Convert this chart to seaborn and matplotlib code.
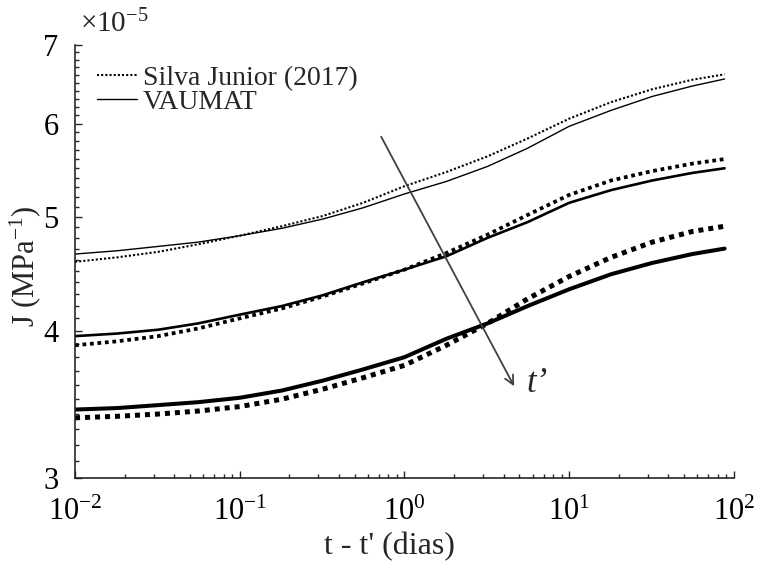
import numpy as np
import pandas as pd
import matplotlib
matplotlib.use("Agg")
import matplotlib.pyplot as plt
from matplotlib.ticker import FixedLocator, FixedFormatter, LogLocator, NullFormatter
import seaborn as sns

# Creep compliance J (x 1e-5 1/MPa) versus loading time t - t' (days)
t_days = [0.01, 0.018, 0.032, 0.056, 0.1, 0.18, 0.32, 0.56, 1.0,
          1.8, 3.2, 5.6, 10, 18, 32, 56, 88]

silva_early = [4.58, 4.62, 4.67, 4.74, 4.82, 4.91, 5.01, 5.14, 5.31,
               5.46, 5.63, 5.83, 6.06, 6.26, 6.42, 6.54, 6.61]
vaumat_early = [4.65, 4.68, 4.72, 4.76, 4.82, 4.89, 4.98, 5.09, 5.23,
                5.36, 5.52, 5.72, 5.97, 6.16, 6.33, 6.46, 6.55]
silva_mid = [3.89, 3.92, 3.96, 4.02, 4.10, 4.18, 4.28, 4.39, 4.51,
             4.66, 4.83, 5.02, 5.22, 5.37, 5.47, 5.55, 5.60]
vaumat_mid = [3.96, 3.98, 4.01, 4.06, 4.13, 4.20, 4.29, 4.40, 4.51,
              4.63, 4.80, 4.95, 5.14, 5.27, 5.37, 5.45, 5.50]
silva_late = [3.375, 3.385, 3.40, 3.42, 3.45, 3.50, 3.57, 3.65, 3.74,
              3.89, 4.06, 4.26, 4.45, 4.62, 4.76, 4.86, 4.91]
vaumat_late = [3.43, 3.44, 3.46, 3.48, 3.51, 3.56, 3.63, 3.71, 3.80,
               3.94, 4.06, 4.20, 4.34, 4.47, 4.57, 4.65, 4.70]

y_ticks = [3, 4, 5, 6, 7]
x_ticks = [1e-2, 1e-1, 1e0, 1e1, 1e2]
x_tick_labels = [r"$\mathregular{10^{-2}}$", r"$\mathregular{10^{-1}}$", r"$\mathregular{10^{0}}$",
                 r"$\mathregular{10^{1}}$", r"$\mathregular{10^{2}}$"]

scale = 1e-5
curves = [
    ("Silva Junior (2017)", silva_early, "dot", 1.5),
    ("VAUMAT", vaumat_early, "solid", 1.0),
    (None, silva_mid, "dot", 2.7),
    (None, vaumat_mid, "solid", 1.9),
    (None, silva_late, "dot", 3.6),
    (None, vaumat_late, "solid", 2.9),
]

sns.set_theme(style="ticks")
plt.rcParams["font.family"] = ["Liberation Serif", "DejaVu Serif"]
plt.rcParams["mathtext.fontset"] = "custom"
plt.rcParams["mathtext.rm"] = "Liberation Serif"
plt.rcParams["mathtext.it"] = "Liberation Serif:italic"

axis_color = "#262626"

fig = plt.figure(figsize=(7.58, 5.70), dpi=100)
ax = fig.add_axes([0.099, 0.1614, 0.869, 0.7596])

for label, values, kind, lw in curves:
    df = pd.DataFrame({"t": t_days, "J": np.array(values) * scale})
    style = dict(linestyle=(0, (1, 1)), dash_capstyle="butt") if kind == "dot" else dict(linestyle="-")
    sns.lineplot(data=df, x="t", y="J", ax=ax, color="black", linewidth=lw,
                 label=label, legend=False, **style)

ax.set_xscale("log")
ax.set_yscale("log")
ax.set_xlim(1e-2, 1e2)
ax.set_ylim(3e-5, 7e-5)

ax.xaxis.set_major_locator(FixedLocator(x_ticks))
ax.xaxis.set_major_formatter(FixedFormatter(x_tick_labels))
ax.xaxis.set_minor_locator(LogLocator(base=10, subs=np.arange(2, 10)))
ax.xaxis.set_minor_formatter(NullFormatter())

ax.yaxis.set_major_locator(FixedLocator([v * scale for v in y_ticks]))
ax.yaxis.set_major_formatter(FixedFormatter([str(v) for v in y_ticks]))
minor_y = [v * scale for v in np.arange(3.1, 7.0, 0.1) if abs(v - round(v)) > 1e-6]
ax.yaxis.set_minor_locator(FixedLocator(minor_y))
ax.yaxis.set_minor_formatter(NullFormatter())

for side in ("top", "right"):
    ax.spines[side].set_visible(False)
for side in ("left", "bottom"):
    ax.spines[side].set_color(axis_color)
    ax.spines[side].set_linewidth(1.2)

ax.tick_params(which="both", direction="in", colors=axis_color, labelcolor="black", width=1.0)
ax.tick_params(which="major", length=5, labelsize=22)
ax.tick_params(axis="x", which="major", pad=14)
ax.tick_params(axis="y", which="major", pad=12)
ax.tick_params(which="minor", length=3)

ax.set_xlabel("t - t' (dias)", fontsize=23)
ax.xaxis.set_label_coords(0.478, -0.125)
ax.set_ylabel(r"J (MPa$^{-1}$)", fontsize=22)
ax.yaxis.set_label_coords(-0.048, 0.49)

ax.text(0.008, 1.015, r"$\times\mathregular{10^{-5}}$", transform=ax.transAxes,
        fontsize=21, ha="left", va="bottom")

# Arrow showing increasing loading age t'
ax.annotate("", xy=(4.64, 3.59e-5), xytext=(0.723, 5.85e-5),
            arrowprops=dict(arrowstyle="->", color="#404040", lw=1.3, mutation_scale=16,
                            shrinkA=0, shrinkB=0))
ax.text(5.5, 3.61e-5, "t\u2019", fontsize=25, style="italic", ha="left", va="center")

leg = ax.legend(loc="upper left", bbox_to_anchor=(0.033, 0.953), frameon=False, fontsize=20,
                handlelength=1.45, handletextpad=0.2, labelspacing=-0.05,
                borderpad=0.0, borderaxespad=0.0)

fig.savefig("out.png", dpi=100)
